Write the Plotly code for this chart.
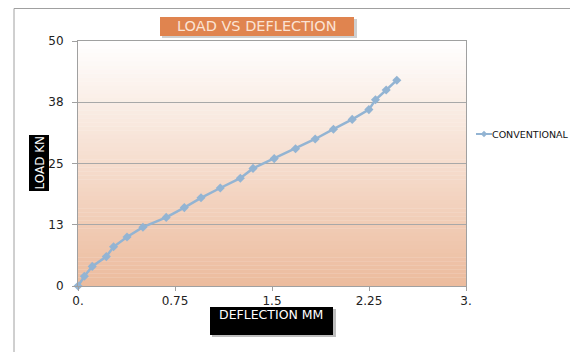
import plotly.graph_objects as go

# Data
deflection_mm = [0.0, 0.049, 0.11, 0.219, 0.275, 0.379, 0.502, 0.682, 0.822, 0.951, 1.10,
                 1.255, 1.353, 1.517, 1.682, 1.834, 1.975, 2.12, 2.249, 2.30, 2.383, 2.465]
load_kn = [0, 2, 4, 6, 8, 10, 12, 14, 16, 18, 20, 22, 24, 26, 28, 30, 32, 34, 36, 38, 40, 42]
series_name = "CONVENTIONAL"

x_tickvals = [0, 0.75, 1.5, 2.25, 3]
x_ticktext = ["0.", "0.75", "1.5", "2.25", "3."]
y_tickvals = [0, 12.5, 25, 37.5, 50]
y_ticktext = ["0", "13", "25", "38", "50"]

OFF = 8                      # page body margin
W, H = 578 - OFF, 352 - OFF  # figure size
# plot area in page pixels
PL, PR, PT, PB = 78, 466, 41, 286
L, R, T, B = PL - OFF, PR - OFF, PT - OFF, PB - OFF


def px(x):
    """page pixel x -> paper x"""
    return (x - PL) / (PR - PL)


def py(y):
    """page pixel y -> paper y"""
    return (PB - y) / (PB - PT)


FONT = "DejaVu Sans, Arial, sans-serif"
LINE_COLOR = "#93B4D3"

fig = go.Figure()
fig.add_trace(go.Scatter(
    x=deflection_mm, y=load_kn, name=series_name, mode="lines+markers",
    line=dict(color=LINE_COLOR, width=2.5),
    marker=dict(symbol="diamond", size=7, color=LINE_COLOR),
    cliponaxis=False, showlegend=False,
))

shapes = []
# gradient background bands
n = 60
top = (255, 255, 255)
bot = (236, 187, 157)
for i in range(n):
    t = (i + 0.5) / n
    c = tuple(int(round(top[k] + (bot[k] - top[k]) * t)) for k in range(3))
    shapes.append(dict(type="rect", xref="paper", yref="paper", x0=0, x1=1,
                       y0=1 - (i + 1) / n, y1=1 - i / n + 0.001,
                       fillcolor="rgb(%d,%d,%d)" % c, line=dict(width=0), layer="below"))

# chart frame
shapes.append(dict(type="line", xref="paper", yref="paper", x0=px(14), x1=px(580), y0=py(8.5), y1=py(8.5),
                   line=dict(color="#A0A0A0", width=1)))
shapes.append(dict(type="line", xref="paper", yref="paper", x0=px(14), x1=px(14), y0=py(8.5), y1=py(360),
                   line=dict(color="#A0A0A0", width=1)))

# title box with shadow
shapes.append(dict(type="rect", xref="paper", yref="paper", x0=px(162), x1=px(357), y0=py(38), y1=py(19),
                   fillcolor="#CFCFCF", line=dict(width=0)))
shapes.append(dict(type="rect", xref="paper", yref="paper", x0=px(160), x1=px(354), y0=py(36), y1=py(17),
                   fillcolor="#E0844F", line=dict(width=0)))
# y title box
shapes.append(dict(type="rect", xref="paper", yref="paper", x0=px(29), x1=px(49), y0=py(191), y1=py(135),
                   fillcolor="#000000", line=dict(width=0)))
# x title box with shadow
shapes.append(dict(type="rect", xref="paper", yref="paper", x0=px(212), x1=px(336), y0=py(337), y1=py(309),
                   fillcolor="#BDBDBD", line=dict(width=0)))
shapes.append(dict(type="rect", xref="paper", yref="paper", x0=px(210), x1=px(333), y0=py(335), y1=py(307),
                   fillcolor="#000000", line=dict(width=0)))

# legend key (line + diamond)
ly = 134
shapes.append(dict(type="line", xref="paper", yref="paper", x0=px(476), x1=px(492), y0=py(ly), y1=py(ly),
                   line=dict(color=LINE_COLOR, width=2)))
cx, d = 484, 3.2
shapes.append(dict(type="path", xref="paper", yref="paper",
                   path="M %f %f L %f %f L %f %f L %f %f Z" % (
                       px(cx), py(ly - d), px(cx + d), py(ly), px(cx), py(ly + d), px(cx - d), py(ly)),
                   fillcolor=LINE_COLOR, line=dict(width=0)))

annotations = [
    dict(text="LOAD VS DEFLECTION", xref="paper", yref="paper", x=px(257), y=py(26.5),
         showarrow=False, xanchor="center", yanchor="middle",
         font=dict(family=FONT, size=14.5, color="#FBE3D4")),
    dict(text="LOAD KN", xref="paper", yref="paper", x=px(39.5), y=py(163),
         showarrow=False, xanchor="center", yanchor="middle", textangle=-90,
         font=dict(family=FONT, size=12, color="#FFFFFF")),
    dict(text="DEFLECTION MM", xref="paper", yref="paper", x=px(271), y=py(314.5),
         showarrow=False, xanchor="center", yanchor="middle",
         font=dict(family=FONT, size=12.5, color="#FFFFFF")),
    dict(text=series_name, xref="paper", yref="paper", x=px(491), y=py(ly),
         showarrow=False, xanchor="left", yanchor="middle", borderpad=0,
         font=dict(family=FONT, size=9.5, color="#111111")),
]

fig.update_layout(
    width=W, height=H,
    margin=dict(l=L, r=W - R, t=T, b=H - B, pad=0, autoexpand=False),
    paper_bgcolor="#FFFFFF", plot_bgcolor="#FFFFFF",
    font=dict(family=FONT, size=12, color="#222222"),
    shapes=shapes, annotations=annotations,
    showlegend=False,
    xaxis=dict(range=[0, 3], tickvals=x_tickvals, ticktext=x_ticktext,
               showgrid=False, zeroline=False, showline=True, linecolor="#A0A0A0", linewidth=1,
               mirror=True, ticks="outside", ticklen=4, tickcolor="#A0A0A0",
               tickfont=dict(family=FONT, size=12, color="#222222")),
    yaxis=dict(range=[0, 50], tickvals=y_tickvals, ticktext=y_ticktext,
               showgrid=True, gridcolor="#A8A8A8", gridwidth=1, zeroline=False,
               showline=True, linecolor="#A0A0A0", linewidth=1, mirror=True,
               ticks="outside", ticklen=5, tickcolor="#A0A0A0", ticklabelstandoff=6,
               tickfont=dict(family=FONT, size=12, color="#222222")),
)

fig.write_html("out.html")
